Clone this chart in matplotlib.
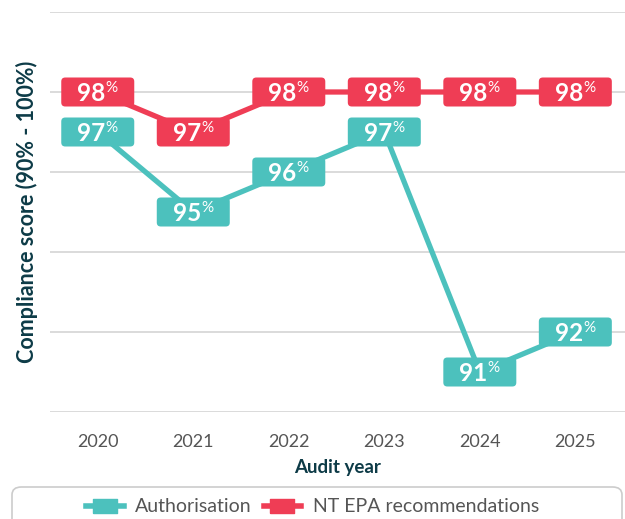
import matplotlib.pyplot as plt
from matplotlib.patches import FancyBboxPatch
from matplotlib.lines import Line2D
from matplotlib.transforms import ScaledTranslation

years = ['2020', '2021', '2022', '2023', '2024', '2025']
authorisation = [97, 95, 96, 97, 91, 92]
nt_epa = [98, 97, 98, 98, 98, 98]

TEAL = '#4cc1bd'
RED = '#ef3d55'
DARK = '#0d3b47'
GREY = '#555555'

plt.rcParams['font.family'] = ['Lato', 'DejaVu Sans']

fig = plt.figure(figsize=(6.25, 5.19), dpi=100)
ax = fig.add_axes([50 / 625, 1 - 412 / 519, 575 / 625, 400 / 519])

x = list(range(len(years)))


def draw_series(values, color):
    ax.plot(x, values, color=color, linewidth=3.8, zorder=2, solid_capstyle='butt')
    for xi, v in zip(x, values):
        trans = fig.dpi_scale_trans + ScaledTranslation(xi, v, ax.transData)
        box = FancyBboxPatch((-0.365, -0.145), 0.73, 0.29,
                             boxstyle='round,pad=0,rounding_size=0.04',
                             facecolor=color, edgecolor='none',
                             transform=trans, zorder=3, clip_on=False)
        ax.add_patch(box)
        ax.annotate(str(v), xy=(xi, v), xytext=(5.5, -1.2),
                    textcoords='offset points', ha='right', va='center',
                    fontsize=17.5, fontweight='bold', color='white', zorder=4)
        ax.annotate('%', xy=(xi, v), xytext=(5.8, 8.0),
                    textcoords='offset points', ha='left', va='top',
                    fontsize=11, color='white', zorder=4)


draw_series(authorisation, TEAL)
draw_series(nt_epa, RED)

ax.set_xlim(-0.5, 5.52)
ax.set_ylim(90, 100)
ax.set_yticks([90, 92, 94, 96, 98, 100])
ax.set_yticklabels([])
ax.set_xticks(x)
ax.set_xticklabels(years, fontsize=13, color=GREY)
ax.tick_params(axis='both', length=0)
ax.tick_params(axis='x', pad=16)
ax.grid(axis='y', color='#d4d4d4', linewidth=1.2)
ax.set_axisbelow(True)
for s in ax.spines.values():
    s.set_visible(False)

ax.set_xlabel('Audit year', fontsize=13.5, fontweight='bold', color=DARK, labelpad=6)
fig.text(27 / 625, 1 - 212 / 519, 'Compliance score (90% - 100%)', rotation=90,
         ha='center', va='center', fontsize=15.5, fontweight='bold', color=DARK)

rect = [(-1.6, -1), (1.6, -1), (1.6, 1), (-1.6, 1), (-1.6, -1)]
handles = [
    Line2D([0], [0], color=TEAL, linewidth=4, marker=rect, markersize=17),
    Line2D([0], [0], color=RED, linewidth=4, marker=rect, markersize=17),
]
leg = fig.legend(handles, ['Authorisation', 'NT EPA recommendations'],
                 loc='upper center', bbox_to_anchor=(0.5, 1 - 481 / 519),
                 ncol=2, fontsize=14, frameon=False, handlelength=1.95,
                 columnspacing=0.6, handletextpad=0.6)
for t in leg.get_texts():
    t.set_color(GREY)

frame = FancyBboxPatch((12 / 625, -0.05), 610 / 625, 1 - 487 / 519 + 0.05,
                       boxstyle='round,pad=0,rounding_size=0.015',
                       facecolor='none', edgecolor='#cccccc', linewidth=1.2,
                       transform=fig.transFigure)
fig.patches.append(frame)

fig.savefig('out.png', dpi=100)
